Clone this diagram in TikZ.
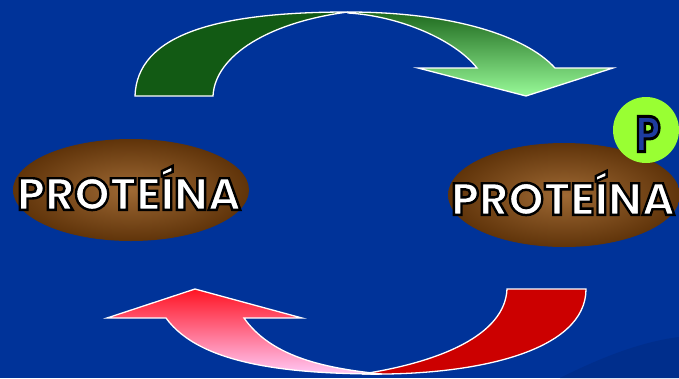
\documentclass[tikz,border=0pt]{standalone}
\usepackage{fontspec}
\usepackage{graphicx}
\setmainfont{Poppins}
\newfontfamily\labelfont{Poppins}
\usetikzlibrary{shapes.geometric,calc}
\definecolor{bgblue}{RGB}{0,51,153}
\definecolor{bgdark}{RGB}{0,46,140}
\definecolor{dkgreen}{RGB}{18,90,20}
\definecolor{grtop}{RGB}{30,105,30}
\definecolor{grbot}{RGB}{152,250,152}
\definecolor{redsolid}{RGB}{204,0,0}
\definecolor{pinktop}{RGB}{255,20,35}
\definecolor{pinkbot}{RGB}{255,200,245}
\definecolor{brownin}{RGB}{158,105,52}
\definecolor{brownout}{RGB}{96,52,10}
\definecolor{limeball}{RGB}{153,255,51}
\definecolor{pblue}{RGB}{30,60,160}
\newcommand\strokedtext[2]{\special{pdf:literal direct 2 Tr #1 w 0 0 0 RG}#2\special{pdf:literal direct 0 Tr}}
\tikzset{
 arrowshape/.style={draw=white, line width=1.3pt, line join=miter},
 blob/.style={ellipse, inner color=brownin, outer color=brownout, minimum width=236pt, minimum height=102pt, inner sep=0pt},
 lbl/.style={font=\labelfont\bfseries\fontsize{45}{45}\selectfont, inner sep=0pt, text=white},
 plbl/.style={font=\labelfont\bfseries\fontsize{50}{50}\selectfont, inner sep=0pt, text=pblue},
}
\begin{document}
\begin{tikzpicture}[x=1pt,y=-1pt]
\useasboundingbox (0,0) rectangle (679,378);
\fill[bgblue] (0,0) rectangle (679,378);
\fill[bgdark] (560,378) .. controls (600,358) and (640,342) .. (679,337) -- (679,378) -- cycle;
% green arrow
\path[arrowshape, fill=dkgreen] (135,96) .. controls (137,35) and (215,12) .. (348,12) .. controls (270,22) and (215,55) .. (213,96) -- cycle;
\path[arrowshape, top color=grtop, bottom color=grbot] (348,12) .. controls (450,12) and (525,35) .. (555,68) -- (613,68) -- (526,96) -- (418,68) -- (477,68) .. controls (455,40) and (400,16) .. (348,13) -- cycle;
% red arrow
\path[arrowshape, fill=redsolid] (507,289) -- (586,289) .. controls (586,350) and (480,376) .. (362,374) .. controls (440,362) and (505,335) .. (507,289) -- cycle;
\path[arrowshape, top color=pinktop, bottom color=pinkbot] (107,318) -- (195,289) -- (302,318) -- (244,318) .. controls (270,355) and (320,368) .. (382,374) .. controls (290,374) and (200,365) .. (166,318) -- cycle;
% proteins
\node[blob] (e1) at (131,190) {};
\node[blob, minimum width=232pt, minimum height=104pt] (e2) at (564,195) {};
\node[circle, fill=limeball, minimum size=66pt, inner sep=0pt] (pc) at (646,130) {};
\node[lbl] (t1) at (129,188) {\strokedtext{2.4}{PROTEÍNA}};
\node[lbl] (t2) at (563,193) {\strokedtext{2.4}{PROTEÍNA}};
\node[plbl] (ptxt) at (648,134) {\scalebox{0.8}[1]{\strokedtext{3}{P}}};
\end{tikzpicture}
\end{document}
